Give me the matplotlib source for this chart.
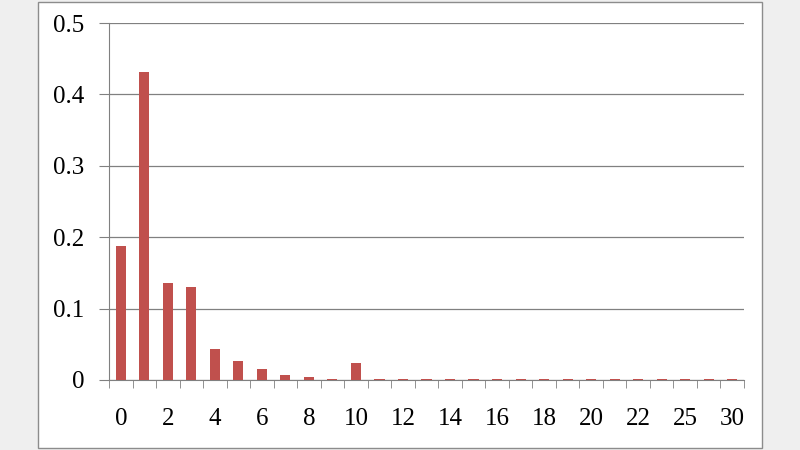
import matplotlib
matplotlib.use("Agg")
import matplotlib.pyplot as plt
from matplotlib.patches import Rectangle

# category labels (only every other one is shown on the axis)
categories = [str(i) for i in range(23)] + ["24", "25", "28", "30"]
values = [0.188, 0.431, 0.136, 0.130, 0.043, 0.026, 0.015, 0.0075, 0.004, 0.002,
          0.024, 0.002, 0.002, 0.002, 0.002, 0.002, 0.002, 0.002, 0.002, 0.002,
          0.002, 0.002, 0.002, 0.002, 0.002, 0.002, 0.002]
yticks = [0, 0.1, 0.2, 0.3, 0.4, 0.5]
ytick_labels = ["0", "0.1", "0.2", "0.3", "0.4", "0.5"]

plt.rcParams["font.family"] = ["Liberation Serif", "DejaVu Serif"]

fig = plt.figure(figsize=(8, 4.5), dpi=100, facecolor="#efefef")
# white chart frame, kept behind the axes
fig.patches.append(Rectangle((38 / 800, 2 / 450), 724 / 800, 446 / 450,
                             transform=fig.transFigure, facecolor="white",
                             edgecolor="#8c8c8c", linewidth=1, zorder=-5))

ax = fig.add_axes([109 / 800, 70 / 450, 635 / 800, 357 / 450])
ax.set_zorder(2)
ax.set_facecolor("none")
x = list(range(len(categories)))
ax.bar(x, values, width=0.43, color="#c0504d", zorder=3)

ax.set_xlim(-0.5, len(categories) - 0.5)
ax.set_ylim(0, 0.5)
ax.set_yticks(yticks)
ax.set_yticklabels(ytick_labels, fontsize=18)
ax.yaxis.grid(True, color="#808080", linewidth=0.9, zorder=0)
ax.tick_params(axis="y", length=7, color="#808080", pad=11)

ax.set_xticks(x[::2])
ax.set_xticklabels(categories[::2], fontsize=18)
ax.set_xticks([i - 0.5 for i in range(len(categories) + 1)], minor=True)
ax.tick_params(axis="x", which="major", length=0, pad=20)
ax.tick_params(axis="x", which="minor", length=6, color="#808080")

for side in ("top", "right"):
    ax.spines[side].set_visible(False)
ax.spines["left"].set_color("#808080")
ax.spines["bottom"].set_color("#808080")
ax.set_axisbelow(True)

fig.savefig("out.png", dpi=100, facecolor=fig.get_facecolor())
